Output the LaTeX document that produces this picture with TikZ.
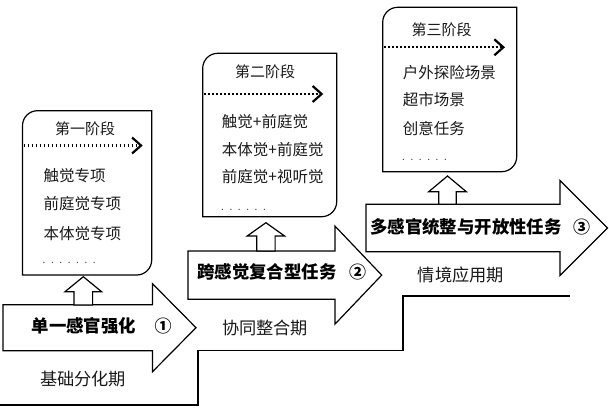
\documentclass[tikz,border=0pt]{standalone}
\usepackage{fontspec}
\setmainfont{Noto Sans CJK SC}
\usetikzlibrary{arrows.meta}
\newcommand\stagebox[4]{% x1,x2,ybottom,ytop
  \draw[outline, fill=white] (#1,#3) -- (#1,#4-15) arc[start angle=180,end angle=90,radius=15pt]
    -- (#2,#4) -- (#2,#3+15) arc[start angle=0,end angle=-90,radius=15pt] -- cycle;}
\newcommand\bigarrow[6]{% xl,xb,xt,yc,hs,hh
  \draw[outline, fill=white] (#1,#4-#5) -- (#2,#4-#5) -- (#2,#4-#6) -- (#3,#4)
    -- (#2,#4+#6) -- (#2,#4+#5) -- (#1,#4+#5) -- cycle;}
\newcommand\upblock[6]{% xc,ybottom,ybase,ytip,sh,hh
  \draw[outline, fill=white] (#1-#5,#2) -- (#1-#5,#3) -- (#1-#6,#3) -- (#1,#4)
    -- (#1+#6,#3) -- (#1+#5,#3) -- (#1+#5,#2) -- cycle;}
\newcommand\dotrow[1]{\foreach \i in {1,...,#1}{.\hspace{5.6pt}}}
\tikzset{
  outline/.style={draw=black, line width=1.2pt, line join=miter},
  titletext/.style={font=\fontsize{15}{18}\selectfont, inner sep=0pt, text=black!90},
  itemtext/.style={font=\fontsize{15.5}{18}\selectfont, inner sep=0pt, anchor=west, text=black!90},
  dotstext/.style={font=\fontsize{10}{12}\selectfont, inner sep=0pt, anchor=west, text=black!75},
  phasetext/.style={font=\bfseries\fontsize{17.4}{20}\selectfont, inner sep=0pt, anchor=west},
  numtext/.style={font=\bfseries\fontsize{17}{20}\selectfont, inner sep=0pt},
  periodtext/.style={font=\fontsize{17.2}{20}\selectfont, inner sep=0pt, text=black!90},
  dotsline/.style={line width=2.2pt, dash pattern=on 1.8pt off 2.2pt,
    -{Straight Barb[length=9pt,width=16pt,line width=2.2pt]}},
}
\begin{document}
\begin{tikzpicture}[x=1pt,y=1pt]
\useasboundingbox (0,0) rectangle (609,408);
% staircase outline
\draw[outline] (0,3) -- (198,3) -- (198,57.5) -- (403,57.5) -- (403,112) -- (570,112);
% big arrows
\bigarrow{3}{152.5}{196}{80.3}{23}{44}
\bigarrow{188}{335}{381.7}{132.9}{24.2}{49}
\bigarrow{366}{560}{607.5}{180}{23.7}{47.5}
% up block arrows
\upblock{83.3}{103}{116.3}{131.3}{9.3}{18.3}
\upblock{265.9}{157.1}{172}{185.3}{9.2}{18.7}
\upblock{447.5}{203.7}{216.3}{232}{8.8}{18.8}
% boxes
\stagebox{22.5}{151.7}{133}{297.3}
\stagebox{202.7}{336.7}{191.3}{354.7}
\stagebox{382.7}{516.7}{236.3}{400.7}
% box 1
\node[titletext] (t1) at (85,279.7) {第一阶段};
\coordinate (d1s) at (23.5,262.5);
\coordinate (d1e) at (142.7,262.5);
\draw[dotsline] (d1s) -- (d1e);
\node[itemtext] (a1) at (43.3,232) {触觉专项};
\node[itemtext] (a2) at (43.3,204) {前庭觉专项};
\node[itemtext] (a3) at (43.3,174.7) {本体觉专项};
\node[dotstext] (a4) at (42.5,145) {\dotrow{7}};
% box 2
\node[titletext] (t2) at (265,336.3) {第二阶段};
\coordinate (d2s) at (203.7,314);
\coordinate (d2e) at (323.3,314);
\draw[dotsline] (d2s) -- (d2e);
\node[itemtext] (b1) at (221.7,286.3) {触觉+前庭觉};
\node[itemtext] (b2) at (221.7,258.7) {本体觉+前庭觉};
\node[itemtext] (b3) at (221.7,231.3) {前庭觉+视听觉};
\node[dotstext] (b4) at (221,198.5) {\dotrow{6}};
% box 3
\node[titletext] (t3) at (441.7,378) {第三阶段};
\coordinate (d3s) at (383.7,360.7);
\coordinate (d3e) at (505,360.7);
\draw[dotsline] (d3s) -- (d3e);
\node[itemtext] (c1) at (402.7,335.3) {户外探险场景};
\node[itemtext] (c2) at (402.7,308) {超市场景};
\node[itemtext] (c3) at (402.7,279.7) {创意任务};
\node[dotstext] (c4) at (402,248.5) {\dotrow{6}};
% arrow labels
\node[phasetext] (p1) at (31.5,82) {单一感官强化};
\node[numtext] (n1) at (163,82) {①};
\node[phasetext] (p2) at (197,136.3) {跨感觉复合型任务};
\node[numtext] (n2) at (357.5,136.3) {②};
\node[phasetext] (p3) at (370,181.3) {多感官统整与开放性任务};
\node[numtext] (n3) at (581.7,181.3) {③};
% periods
\node[periodtext] (q1) at (83,29) {基础分化期};
\node[periodtext] (q2) at (265,79.7) {协同整合期};
\node[periodtext] (q3) at (460.8,133) {情境应用期};
\end{tikzpicture}
\end{document}
